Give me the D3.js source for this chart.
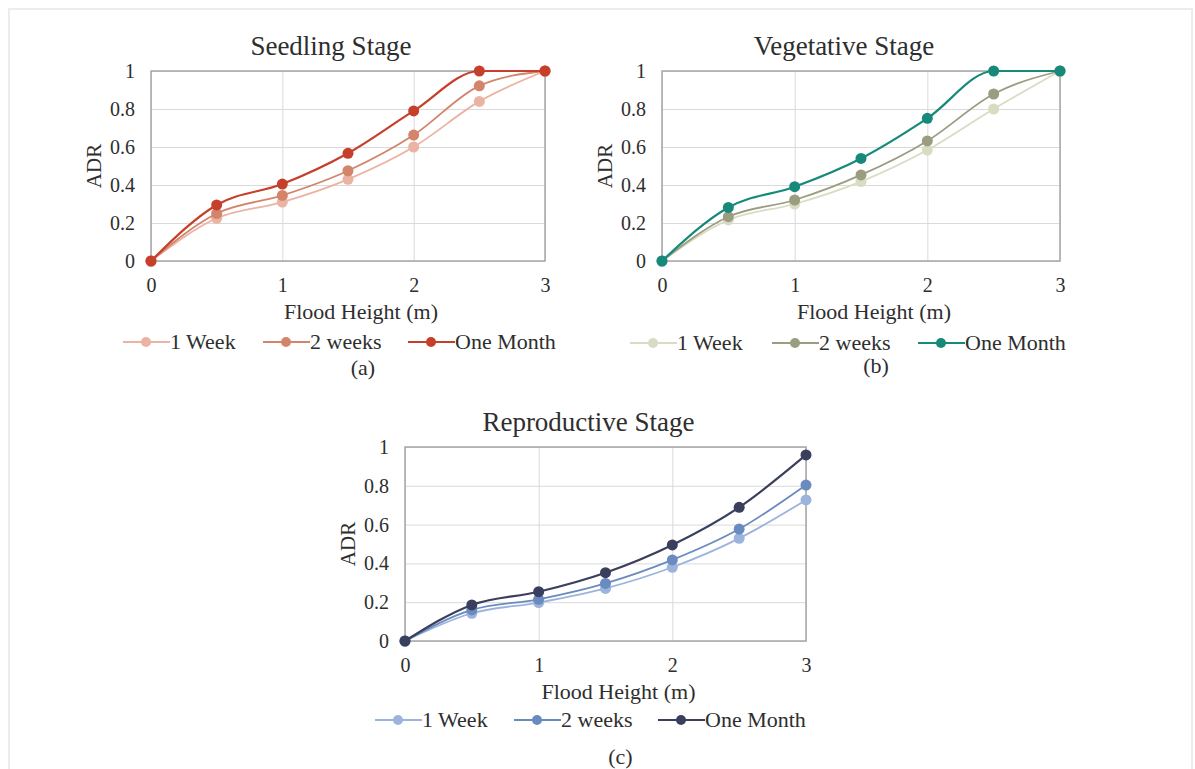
<!DOCTYPE html>
<html>
<head>
<meta charset="utf-8">
<script src="https://cdn.jsdelivr.net/npm/d3@7"></script>
<style>
  body { margin: 0; background: #fff; }
  svg text { font-family: "Liberation Serif", "Times New Roman", "DejaVu Serif", serif !important; fill: #2e2e2e; }
</style>
</head>
<body>
<svg id="chart" width="1195" height="769"></svg>
<script>
// flood heights (x)
const heights = [0, 0.5, 1, 1.5, 2, 2.5, 3];
const seriesNames = ["1 Week", "2 weeks", "One Month"];
const yTicks = [0, 0.2, 0.4, 0.6, 0.8, 1];
const xTicks = [0, 1, 2, 3];

// ADR values
const seedlingWeek1 = [0, 0.225, 0.31, 0.43, 0.60, 0.84, 1.0];
const seedlingWeek2 = [0, 0.25, 0.345, 0.475, 0.663, 0.922, 1.0];
const seedlingMonth = [0, 0.295, 0.405, 0.567, 0.79, 1.0, 1.0];

const vegetativeWeek1 = [0, 0.216, 0.30, 0.418, 0.584, 0.80, 1.0];
const vegetativeWeek2 = [0, 0.233, 0.321, 0.453, 0.632, 0.879, 1.0];
const vegetativeMonth = [0, 0.282, 0.391, 0.54, 0.751, 1.0, 1.0];

const reproductiveWeek1 = [0, 0.143, 0.198, 0.271, 0.38, 0.529, 0.727];
const reproductiveWeek2 = [0, 0.16, 0.215, 0.297, 0.418, 0.577, 0.804];
const reproductiveMonth = [0, 0.186, 0.254, 0.352, 0.495, 0.689, 0.959];

const panels = [
  { title: "Seedling Stage", tag: "(a)", series: [seedlingWeek1, seedlingWeek2, seedlingMonth],
    colors: ["#ebb3a1", "#d4846b", "#c63f2b"],
    x0: 151, x1: 545, yTop: 71, yBot: 261, legendY: 342, legendX: [123, 263, 408], tagY: 368 },
  { title: "Vegetative Stage", tag: "(b)", series: [vegetativeWeek1, vegetativeWeek2, vegetativeMonth],
    colors: ["#d9dcc2", "#9b9d80", "#17897b"],
    x0: 662, x1: 1060, yTop: 71, yBot: 261, legendY: 343, legendX: [630, 772, 918], tagY: 366 },
  { title: "Reproductive Stage", tag: "(c)", series: [reproductiveWeek1, reproductiveWeek2, reproductiveMonth],
    colors: ["#9cb4dc", "#6a8bbf", "#3a3f5e"],
    x0: 405, x1: 806, yTop: 447, yBot: 641, legendY: 720, legendX: [375, 514, 658], tagY: 757 }
];

const svg = d3.select("#chart");

// faint frame around the figure
svg.append("rect")
  .attr("x", 9).attr("y", 9)
  .attr("width", 1183).attr("height", 780)
  .attr("fill", "none")
  .attr("stroke", "#ececec")
  .attr("stroke-width", 2);

function drawPanel(p) {
  const x = d3.scaleLinear().domain([0, 3]).range([p.x0, p.x1]);
  const y = d3.scaleLinear().domain([0, 1]).range([p.yBot, p.yTop]);
  const g = svg.append("g");

  // gridlines
  g.append("g")
    .attr("transform", `translate(0,${p.yBot})`)
    .call(d3.axisBottom(x).tickValues(xTicks).tickSize(-(p.yBot - p.yTop)).tickFormat(""))
    .call(a => a.select(".domain").remove())
    .call(a => a.selectAll("line").attr("stroke", "#dadada"));
  g.append("g")
    .attr("transform", `translate(${p.x0},0)`)
    .call(d3.axisLeft(y).tickValues(yTicks).tickSize(-(p.x1 - p.x0)).tickFormat(""))
    .call(a => a.select(".domain").remove())
    .call(a => a.selectAll("line").attr("stroke", "#dadada"));

  // plot frame
  g.append("rect")
    .attr("x", p.x0).attr("y", p.yTop)
    .attr("width", p.x1 - p.x0).attr("height", p.yBot - p.yTop)
    .attr("fill", "none").attr("stroke", "#a6a6a6").attr("stroke-width", 1.5);

  // tick labels
  g.append("g")
    .attr("transform", `translate(0,${p.yBot})`)
    .call(d3.axisBottom(x).tickValues(xTicks).tickSize(0).tickPadding(17).tickFormat(d3.format("d")))
    .call(a => a.select(".domain").remove())
    .call(a => a.selectAll("text").style("font-size", "20px"));
  g.append("g")
    .attr("transform", `translate(${p.x0},0)`)
    .call(d3.axisLeft(y).tickValues(yTicks).tickSize(0).tickPadding(16).tickFormat(d => d === 0 || d === 1 ? d : d3.format(".1f")(d)))
    .call(a => a.select(".domain").remove())
    .call(a => a.selectAll("text").style("font-size", "20px"));

  const midX = (p.x0 + p.x1) / 2;

  // title
  g.append("text")
    .attr("x", midX - 17).attr("y", p.yTop - 16)
    .attr("text-anchor", "middle")
    .style("font-size", "27px")
    .text(p.title);

  // axis titles
  g.append("text")
    .attr("x", midX + 13).attr("y", p.yBot + 58)
    .attr("text-anchor", "middle")
    .style("font-size", "22px")
    .text("Flood Height (m)");
  g.append("text")
    .attr("transform", `translate(${p.x0 - 50},${(p.yTop + p.yBot) / 2}) rotate(-90)`)
    .attr("text-anchor", "middle")
    .style("font-size", "21px")
    .text("ADR");

  // series
  const line = d3.line()
    .x((d, i) => x(heights[i]))
    .y(d => y(d))
    .curve(d3.curveMonotoneX);

  p.series.forEach((vals, s) => {
    g.append("path")
      .datum(vals)
      .attr("d", line)
      .attr("fill", "none")
      .attr("stroke", p.colors[s])
      .attr("stroke-width", s === 2 ? 2.2 : 1.8);
    g.selectAll(null)
      .data(vals)
      .enter()
      .append("circle")
      .attr("cx", (d, i) => x(heights[i]))
      .attr("cy", d => y(d))
      .attr("r", 5.5)
      .attr("fill", p.colors[s]);
  });

  // legend
  seriesNames.forEach((name, s) => {
    const lx = p.legendX[s];
    g.append("line")
      .attr("x1", lx).attr("x2", lx + 47)
      .attr("y1", p.legendY).attr("y2", p.legendY)
      .attr("stroke", p.colors[s]).attr("stroke-width", 2);
    g.append("circle")
      .attr("cx", lx + 23).attr("cy", p.legendY).attr("r", 5)
      .attr("fill", p.colors[s]);
    g.append("text")
      .attr("x", lx + 47).attr("y", p.legendY + 7)
      .style("font-size", "22px")
      .text(name);
  });

  // panel tag
  g.append("text")
    .attr("x", midX + 15).attr("y", p.tagY + 7)
    .attr("text-anchor", "middle")
    .style("font-size", "22px")
    .text(p.tag);
}

panels.forEach(drawPanel);
</script>
</body>
</html>
